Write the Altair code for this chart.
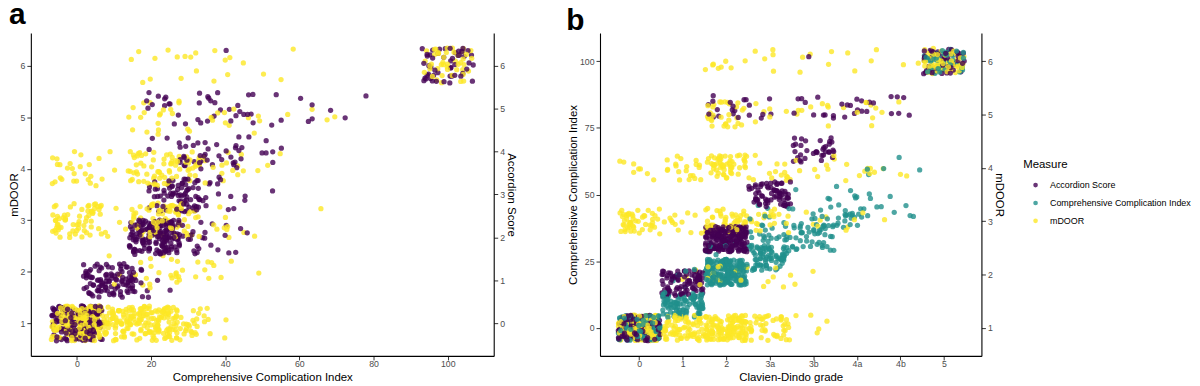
import altair as alt
import pandas as pd

FONT = "Liberation Sans"
measures = ["Accordion Score", "Comprehensive Complication Index", "mDOOR"]
palette = ["#440154", "#21908C", "#FDE725"]
grade_labels = ["0", "1", "2", "3a", "3b", "4a", "4b", "5"]
panel_labels = ["a", "b"]

# ---------- Panel a : scores plotted against the CCI ----------
a_mdoor_val = [1, 1, 1, 1, 1, 1, 1, 1, 2, 2, 2, 2, 2, 3, 3, 3, 3, 3, 3, 3,
               4, 4, 4, 4, 4, 4, 4, 5, 5, 5, 5, 5, 5, 5, 6, 6, 6, 6, 6, 6]
a_mdoor_cci = [0, 8.7, 14, 20.9, 26.2, 30, 33.7, 36.2, 8.7, 20.9, 26.2, 33.7, 42.4,
               0, 8.7, 20.9, 26.2, 33.7, 42.4, 64, 0, 8.7, 20.9, 26.2, 33.7, 42.4, 48,
               20.9, 26.2, 33.7, 42.4, 52, 62, 70, 20.9, 26.2, 33.7, 42.4, 52, 100]
a_mdoor_n = [150, 80, 35, 90, 25, 12, 6, 3, 3, 12, 8, 8, 3, 60, 10, 45, 30, 12, 5, 1,
             22, 6, 45, 25, 10, 8, 3, 12, 6, 6, 6, 3, 2, 1, 6, 3, 4, 5, 3, 45]

a_acc_val = [0, 1, 1, 1, 1, 2, 2, 2, 2, 2, 3, 3, 3, 3, 4, 4, 4, 4, 4,
             5, 5, 5, 5, 5, 5, 5, 5, 6, 6]
a_acc_cci = [0, 8.7, 12.2, 17.3, 22.6, 20.9, 26.2, 30, 36, 42, 26.2, 33.7, 40, 46,
             26.2, 33.7, 40, 46, 52, 20.9, 26.2, 33.7, 42.4, 50, 58, 66, 75, 42.4, 100]
a_acc_n = [150, 90, 15, 6, 3, 150, 20, 12, 8, 3, 70, 12, 6, 3, 10, 15, 12, 8, 4,
           8, 6, 8, 10, 6, 4, 2, 2, 1, 50]

# ---------- Panel b : scores plotted against Clavien-Dindo grade (index into grade_labels) ----------
b_cci_grade = [0, 1, 1, 2, 2, 3, 3, 3, 3, 3, 4, 4, 4, 4, 5, 5, 5, 5, 6, 6, 7]
b_cci_val = [0, 8.7, 17.4, 20.9, 29.6, 26.2, 29.6, 33.7, 38, 42, 33.7, 38, 42.4, 48,
             42.4, 46.2, 52, 55, 46.2, 60, 100]
b_cci_n = [150, 100, 5, 200, 10, 60, 20, 15, 8, 5, 35, 10, 8, 5, 20, 6, 4, 2, 6, 3, 50]

b_acc_grade = [0, 1, 2, 3, 4, 4, 2, 3, 4, 5, 6, 7]
b_acc_val = [0, 1, 2, 3, 4, 6, 5, 5, 5, 5, 5, 6]
b_acc_n = [150, 90, 200, 70, 35, 1, 15, 6, 10, 12, 6, 50]

b_mdoor_grade = [0, 1, 2, 3, 4, 1, 2, 3, 4, 0, 1, 2, 3, 4, 5, 6, 0, 1, 2, 3, 4, 5, 6,
                 2, 3, 4, 5, 6, 2, 3, 4, 5, 6, 7]
b_mdoor_val = [1, 1, 1, 1, 1, 2, 2, 2, 2, 3, 3, 3, 3, 3, 3, 3, 4, 4, 4, 4, 4, 4, 4,
               5, 5, 5, 5, 5, 6, 6, 6, 6, 6, 6]
b_mdoor_n = [150, 80, 130, 45, 5, 4, 20, 6, 2, 50, 12, 55, 20, 5, 4, 1, 8, 20, 55, 15, 8, 8, 3,
             30, 6, 8, 8, 2, 8, 5, 5, 4, 2, 50]


def expand(groups):
    rows = []
    for measure, xs, vals, ns in groups:
        for x, v, n in zip(xs, vals, ns):
            rows.extend([{"x": x, "val": v, "measure": measure}] * n)
    return pd.DataFrame(rows)


a_df = expand([("mDOOR", a_mdoor_cci, a_mdoor_val, a_mdoor_n),
               ("Accordion Score", a_acc_cci, a_acc_val, a_acc_n)])
b_df = expand([("Comprehensive Complication Index", b_cci_grade, b_cci_val, b_cci_n),
               ("Accordion Score", b_acc_grade, b_acc_val, b_acc_n),
               ("mDOOR", b_mdoor_grade, b_mdoor_val, b_mdoor_n)])

XAXIS = dict(tickSize=4, labelPadding=0, titlePadding=3)
YAXIS = dict(tickSize=4, labelPadding=2, titlePadding=1)

# ---- panel a ----
A_Y = [0.37, 6.63]
pts_a = alt.Chart(a_df).transform_calculate(
    ypos="datum.measure == 'mDOOR' ? datum.val : 1 + datum.val * 5 / 6",
    jx="datum.x + (random() * 2 - 1) * 6.9",
    jy="datum.ypos + (random() * 2 - 1) * 0.34",
    rk="random()",
).mark_circle(size=28, opacity=0.8).encode(
    x=alt.X("jx:Q", scale=alt.Scale(domain=[-12.4, 112.4], nice=False, zero=False),
            axis=alt.Axis(values=[0, 20, 40, 60, 80, 100], title="Comprehensive Complication Index", **XAXIS)),
    y=alt.Y("jy:Q", scale=alt.Scale(domain=A_Y, nice=False, zero=False),
            axis=alt.Axis(values=[1, 2, 3, 4, 5, 6], title="mDOOR", **YAXIS)),
    color=alt.Color("measure:N", scale=alt.Scale(domain=measures, range=palette), legend=None),
    order=alt.Order("rk:Q"),
)
right_a = alt.Chart(pd.DataFrame({"v": [0]})).mark_point(opacity=0).encode(
    y=alt.Y("v:Q", scale=alt.Scale(domain=[(A_Y[0] - 1) * 1.2, (A_Y[1] - 1) * 1.2], nice=False, zero=False),
            axis=alt.Axis(orient="right", values=[0, 1, 2, 3, 4, 5, 6], title="Accordion Score", **YAXIS)),
)
lab_a = alt.Chart(pd.DataFrame({"t": [panel_labels[0]]})).mark_text(
    fontSize=30, fontWeight="bold", font=FONT, align="left", baseline="alphabetic", color="black"
).encode(text="t:N", x=alt.value(-22), y=alt.value(-9))

panel_a = alt.layer(pts_a, right_a, lab_a).resolve_scale(y="independent").properties(width=466, height=325)

# ---- panel b ----
B_Y = [-10.5, 110.5]
pts_b = alt.Chart(b_df).transform_calculate(
    ypos="datum.measure == 'Comprehensive Complication Index' ? datum.val : "
         "(datum.measure == 'Accordion Score' ? datum.val * 100 / 6 : (datum.val - 1) * 20)",
    jx="datum.x + (random() * 2 - 1) * 0.48",
    jy="datum.ypos + (random() * 2 - 1) * 4.8",
    rk="random()",
).mark_circle(size=28, opacity=0.8).encode(
    x=alt.X("jx:Q", scale=alt.Scale(domain=[-0.9, 7.86], nice=False, zero=False),
            axis=alt.Axis(values=list(range(len(grade_labels))), title="Clavien-Dindo grade",
                          labelExpr=str(grade_labels) + "[datum.value]", **XAXIS)),
    y=alt.Y("jy:Q", scale=alt.Scale(domain=B_Y, nice=False, zero=False),
            axis=alt.Axis(values=[0, 25, 50, 75, 100], title="Comprehensive Complication Index", **YAXIS)),
    color=alt.Color("measure:N", scale=alt.Scale(domain=measures, range=palette),
                    legend=alt.Legend(title="Measure", orient="none", legendX=426, legendY=127)),
    order=alt.Order("rk:Q"),
)
right_b = alt.Chart(pd.DataFrame({"v": [1]})).mark_point(opacity=0).encode(
    y=alt.Y("v:Q", scale=alt.Scale(domain=[1 + B_Y[0] / 20, 1 + B_Y[1] / 20], nice=False, zero=False),
            axis=alt.Axis(orient="right", values=[1, 2, 3, 4, 5, 6], title="mDOOR", **YAXIS)),
)
lab_b = alt.Chart(pd.DataFrame({"t": [panel_labels[1]]})).mark_text(
    fontSize=30, fontWeight="bold", font=FONT, align="left", baseline="alphabetic", color="black"
).encode(text="t:N", x=alt.value(-34), y=alt.value(-3))

panel_b = alt.layer(pts_b, right_b, lab_b).resolve_scale(y="independent").properties(width=384, height=325)

chart = alt.hconcat(panel_a, panel_b, spacing=50).resolve_scale(color="independent").configure_view(
    stroke=None
).configure_axis(
    domainColor="black", domainWidth=1.1, tickColor="#333333", tickWidth=1,
    labelColor="#4D4D4D", labelFontSize=8.8, labelFont=FONT,
    titleFontSize=11.5, titleFontWeight="normal", titleColor="black", titleFont=FONT,
    grid=False,
).configure_legend(
    titleFontSize=11.5, titleFontWeight="normal", titleFont=FONT, titleColor="black",
    labelFontSize=9.0, labelFont=FONT, labelColor="black", symbolSize=22, symbolOpacity=0.8,
    symbolType="circle", rowPadding=8, titlePadding=10, labelOffset=10, symbolOffset=8,
).properties(background="white", padding={"left": 0, "top": -9, "right": 0, "bottom": 0})

chart.save("out.html", embed_options={"renderer": "svg", "actions": False})
